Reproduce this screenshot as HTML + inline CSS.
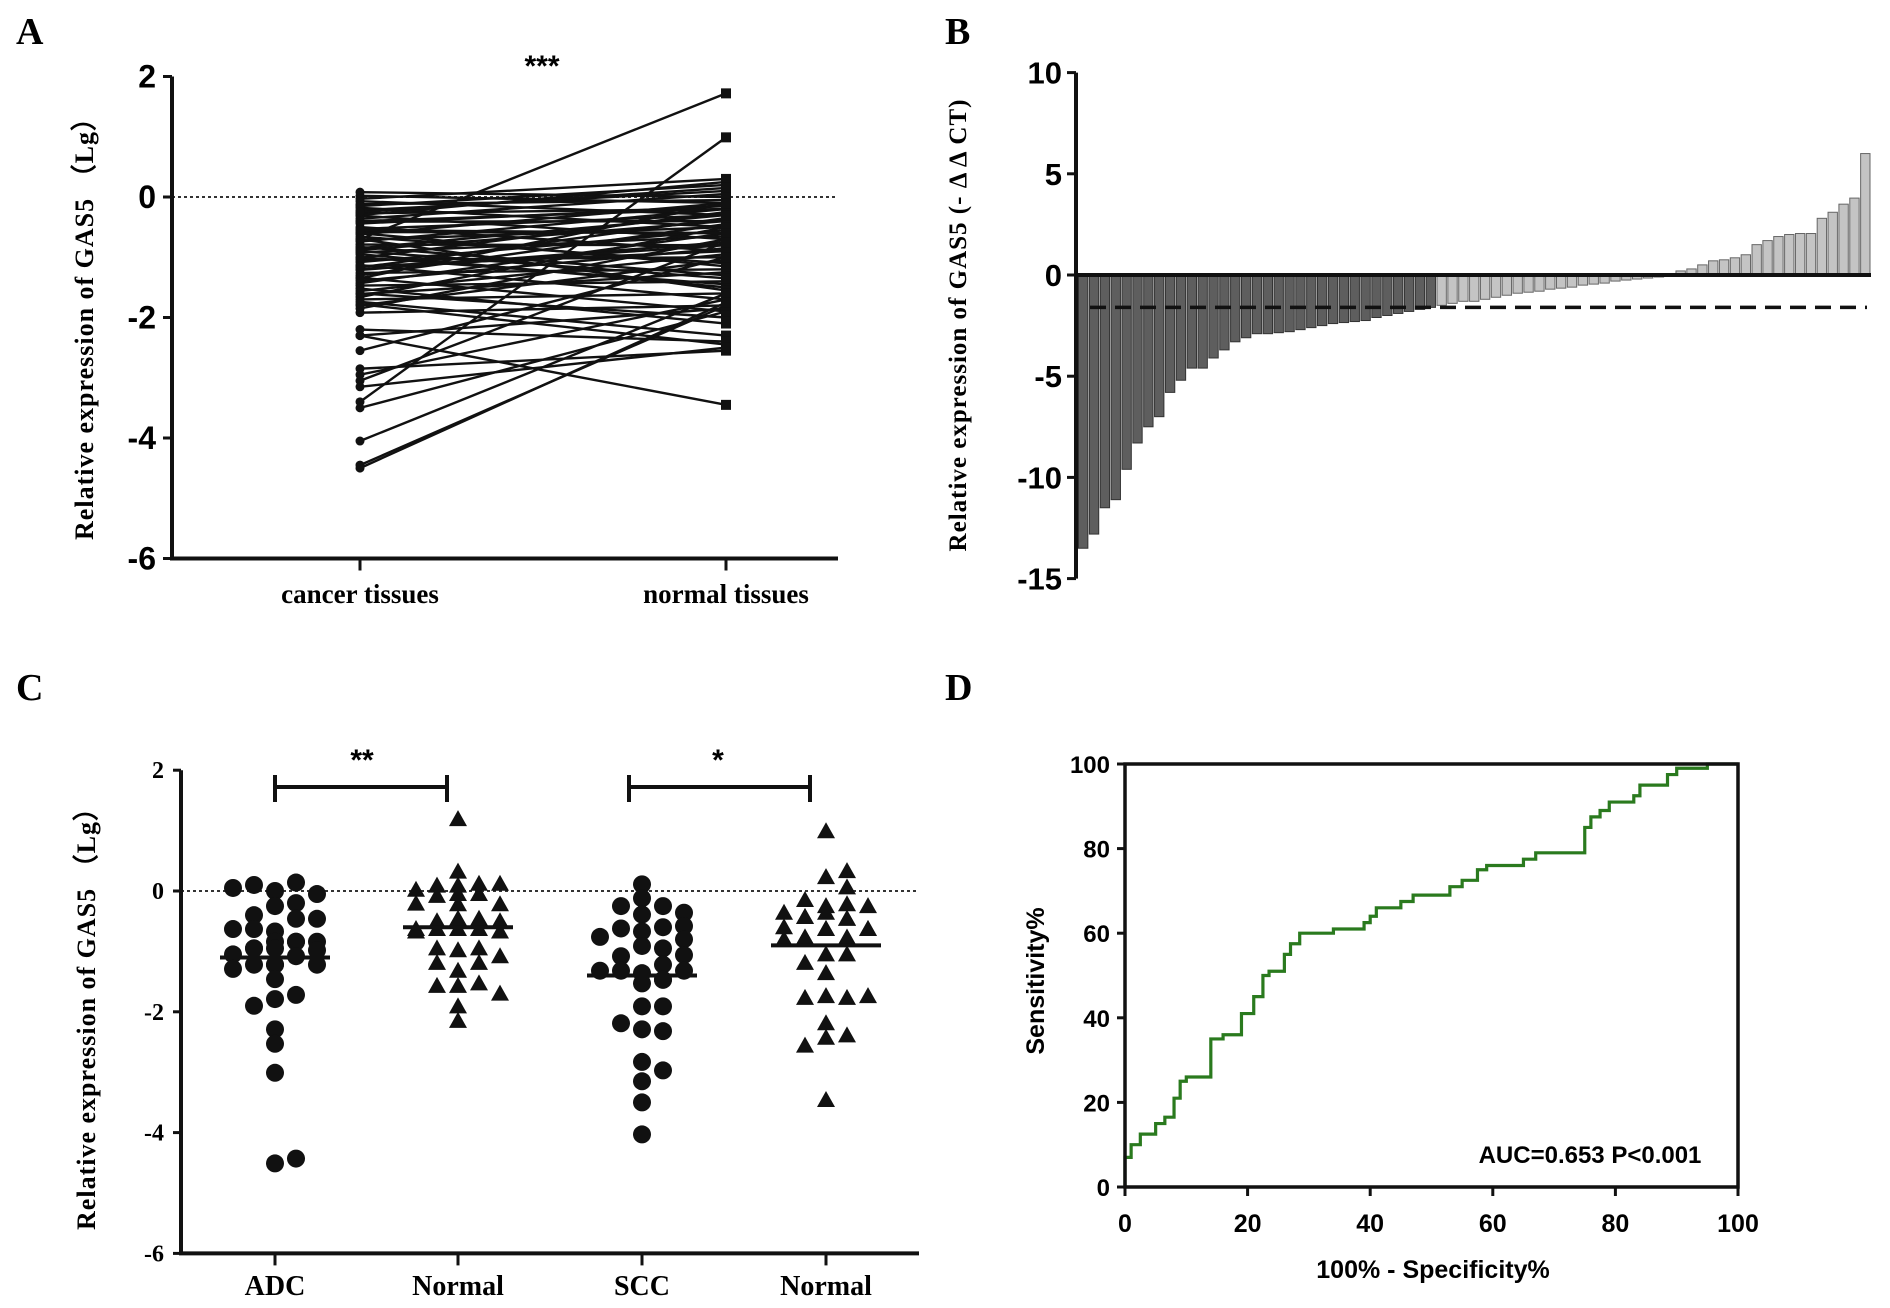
<!DOCTYPE html>
<html><head><meta charset="utf-8"><style>
html,body{margin:0;padding:0;background:#fff;}
svg{display:block;}
.ser{font-family:"Liberation Serif",serif;font-weight:bold;}
.san{font-family:"Liberation Sans",sans-serif;font-weight:bold;}
</style></head><body>
<svg id="fig" width="1890" height="1308" viewBox="0 0 1890 1308" xmlns="http://www.w3.org/2000/svg">
<g>
<text x="16" y="44" class="ser" font-size="38">A</text>
<text x="945" y="44" class="ser" font-size="38">B</text>
<text x="16" y="700" class="ser" font-size="38">C</text>
<text x="945" y="700" class="ser" font-size="38">D</text>
</g>
<g id="pa"></g>
<g id="pb"></g>
<g id="pc"></g>
<g id="pd"></g>
</svg>
<script>
// ---------- Panel A data ----------
const aCancer = [0.08,0.02,-0.03,-0.07,-0.12,-0.18,-0.22,-0.27,-0.31,-0.36,-0.41,-0.44,-0.5,-0.53,-0.58,-0.62,-0.66,-0.71,-0.74,-0.79,-0.83,-0.88,-0.92,-0.95,-1.01,-1.04,-1.08,-1.13,-1.17,-1.21,-1.26,-1.3,-1.34,-1.39,-1.43,-1.47,-1.52,-1.56,-1.61,-1.66,-1.7,-1.74,-1.8,-1.85,-1.92,-0.15,-0.4,-0.6,-0.85,-1.0,-1.2,-0.3,-0.55,-0.9,-1.15,-1.35,-1.6,-1.78,-0.7,-0.25,-2.2,-2.3,-2.3,-2.55,-2.85,-2.95,-3.05,-3.15,-3.4,-3.5,-4.05,-4.45,-4.5,-0.7];
const aNormal = [0.0,-0.1,0.3,-0.3,-0.05,-0.5,0.1,-0.2,-0.7,0.05,-0.4,-0.15,-0.9,-0.3,-0.6,-0.1,-1.1,-0.5,-0.2,-0.8,-1.3,-0.4,-0.65,-1.5,-0.25,-1.0,-0.55,-1.7,-0.35,-0.75,-1.2,-0.45,-1.9,-0.85,-0.6,-1.4,-2.1,-0.95,-1.25,-0.5,-1.6,-2.3,-1.05,-0.7,-1.8,0.2,-0.2,-1.15,-0.3,-1.45,-0.8,0.25,-0.6,-1.35,-0.9,-0.1,-2.0,-2.45,-1.55,0.15,-2.4,-3.45,-1.85,-1.0,-2.55,-1.7,-0.75,-2.5,0.99,-1.9,-1.6,-1.8,-1.75,1.72];
const aTicks = [2,0,-2,-4,-6];
const aCats = ["cancer tissues","normal tissues"];
// ---------- Panel B data ----------
const bValues = [-13.5,-12.8,-11.5,-11.1,-9.6,-8.3,-7.5,-7.0,-5.8,-5.2,-4.6,-4.6,-4.1,-3.7,-3.3,-3.1,-2.9,-2.9,-2.85,-2.8,-2.7,-2.6,-2.5,-2.4,-2.35,-2.3,-2.25,-2.1,-2.0,-1.9,-1.8,-1.7,-1.6,
 -1.5,-1.4,-1.3,-1.3,-1.2,-1.1,-1.0,-0.9,-0.85,-0.8,-0.7,-0.65,-0.6,-0.5,-0.45,-0.4,-0.3,-0.25,-0.2,-0.15,-0.1,-0.05,0.2,0.3,0.5,0.7,0.75,0.85,1.0,1.5,1.7,1.9,2.0,2.05,2.05,2.8,3.1,3.5,3.8,6.0];
const bCutoff = -1.6;
const bTicks = [10,5,0,-5,-10,-15];
// ---------- Panel C data ----------
const cCats = ["ADC","Normal","SCC","Normal"];
const cADC = [0,0.14,0.1,-0.05,0.05,-0.2,-0.25,-0.46,-0.4,-0.46,-0.67,-0.63,-0.63,-0.84,-0.84,-0.84,-0.84,-0.95,-1.05,-0.95,-0.95,-1.08,-0.98,-1.22,-1.22,-1.22,-1.22,-1.29,-1.46,-1.79,-1.72,-1.9,-2.29,-2.53,-3.01,-4.51,-4.43];
const cNormal1 = [1.19,0.32,0.12,0.09,0.09,0.12,0.02,-0.05,-0.05,-0.08,-0.22,-0.21,-0.22,-0.46,-0.46,-0.5,-0.5,-0.63,-0.63,-0.63,-0.63,-0.67,-0.67,-0.98,-0.95,-0.95,-1.08,-1.19,-1.19,-1.32,-1.53,-1.57,-1.57,-1.7,-1.91,-2.15];
const cSCC = [0.11,-0.12,-0.25,-0.25,-0.39,-0.36,-0.6,-0.67,-0.62,-0.58,-0.8,-0.76,-0.91,-0.95,-1.08,-1.06,-1.36,-1.22,-1.32,-1.32,-1.32,-1.47,-1.53,-1.47,-1.91,-1.91,-2.29,-2.32,-2.19,-2.83,-2.97,-3.15,-3.5,-4.03];
const cNormal2 = [0.99,0.23,0.33,0.06,-0.25,-0.22,-0.15,-0.25,-0.36,-0.36,-0.46,-0.43,-0.43,-0.46,-0.63,-0.63,-0.6,-0.63,-0.63,-0.8,-0.77,-0.77,-0.77,-0.8,-1.05,-1.05,-1.19,-1.36,-1.74,-1.77,-1.77,-1.74,-2.19,-2.43,-2.39,-2.56,-3.46];
const cMeans = [-1.1,-0.6,-1.4,-0.9];
const cTicks = [2,0,-2,-4,-6];
// ---------- Panel D data ----------
const dFpr = [0,1,2.5,5,6.5,8,9,10,14,16,19,21,22.5,23.5,26,27,28.5,34,39,40,41,45,47,53,55,57.5,59,65,67,75,76,77.5,79,83,84,88.5,90,95,100];
const dTpr = [7,10,12.5,15,16.5,21,25,26,35,36,41,45,50,51,55,57.5,60,61,62.5,64,66,67.5,69,71,72.5,75,76,77.5,79,85,87.5,89,91,92.5,95,97.5,99,100,100];
const dTicks = [0,20,40,60,80,100];

const NS="http://www.w3.org/2000/svg";
function mk(parent,tag,attrs,txt){const e=document.createElementNS(NS,tag);for(const k in attrs)e.setAttribute(k,attrs[k]);if(txt!==undefined)e.textContent=txt;parent.appendChild(e);return e;}

// ===== Panel A =====
(function(){
 const g=document.getElementById('pa');
 const y=v=>197-v*60.25, xL=172, xR=838, xc=[360,726];
 let e=mk(g,'line',{x1:xL,y1:y(0),x2:xR,y2:y(0),stroke:'#333','stroke-width':2,'stroke-dasharray':'3,3'});
 
 
 for(let i=0;i<aCancer.length;i++){
  e=mk(g,'line',{x1:xc[0],y1:y(aCancer[i]),x2:xc[1],y2:y(aNormal[i]),stroke:'#111','stroke-width':2.4});
  
  
  e=mk(g,'circle',{cx:xc[0],cy:y(aCancer[i]),r:4.5,fill:'#111'});
  
  
  e=mk(g,'rect',{x:xc[1]-5,y:y(aNormal[i])-5,width:10,height:10,fill:'#111'});
  
  
 }
 e=mk(g,'path',{d:`M${xL},${y(2)} V${y(-6)} H${xR}`,stroke:'#111','stroke-width':4,fill:'none'});
 
 
 aTicks.forEach(t=>{
  e=mk(g,'line',{x1:xL-9,y1:y(t),x2:xL,y2:y(t),stroke:'#111','stroke-width':3});
  
  
  e=mk(g,'text',{x:xL-16,y:y(t)+11,'text-anchor':'end','font-size':32,class:'san'},String(t));
  
  
 });
 aCats.forEach((c,i)=>{
  e=mk(g,'line',{x1:xc[i],y1:y(-6),x2:xc[i],y2:y(-6)+12,stroke:'#111','stroke-width':3});
  
  
  e=mk(g,'text',{x:xc[i],y:603,'text-anchor':'middle','font-size':27,class:'ser'},c);
  
  
 });
 e=mk(g,'text',{x:542,y:76,'text-anchor':'middle','font-size':30,class:'san'},'***');
 
 
 e=mk(g,'text',{x:0,y:0,transform:'translate(93,322) rotate(-90)','text-anchor':'middle','font-size':26,class:'ser','letter-spacing':'1'},'Relative expression of GAS5 （Lg）');
 
 
})();

// ===== Panel B =====
(function(){
 const g=document.getElementById('pb');
 const y=v=>275-v*20.24, xL=1076, xR=1871;
 const n=bValues.length, bw=(xR-xL-2)/n;
 let e;
 bValues.forEach((v,i)=>{
  const x=xL+2+i*bw, y0=y(0), y1=y(v);
  e=mk(g,'rect',{x:x+0.5,y:Math.min(y0,y1),width:bw-1.5,height:Math.abs(y1-y0),fill:(v<=bCutoff?'#5e5e5e':'#c4c4c4'),stroke:(v<=bCutoff?'#333':'#666'),'stroke-width':1});
  
  
 });
 e=mk(g,'line',{x1:1090,y1:y(bCutoff),x2:1867,y2:y(bCutoff),stroke:'#111','stroke-width':3.5,'stroke-dasharray':'16,9'});
 
 
 e=mk(g,'line',{x1:xL,y1:y(0),x2:xR,y2:y(0),stroke:'#111','stroke-width':4});
 
 
 e=mk(g,'line',{x1:xL,y1:y(10),x2:xL,y2:y(-15),stroke:'#111','stroke-width':4});
 
 
 bTicks.forEach(t=>{
  e=mk(g,'line',{x1:xL-9,y1:y(t),x2:xL,y2:y(t),stroke:'#111','stroke-width':3});
  
  
  e=mk(g,'text',{x:1062,y:y(t)+11,'text-anchor':'end','font-size':31,class:'san'},String(t));
  
  
 });
 e=mk(g,'text',{x:0,y:0,transform:'translate(966,325) rotate(-90)','text-anchor':'middle','font-size':25,class:'ser','letter-spacing':'1'},'Relative expression of GAS5 (- Δ Δ CT)');
 
 
})();

// ===== Panel C =====
(function(){
 const g=document.getElementById('pc');
 const y=v=>891-v*60.4, xL=181, xR=919, xc=[275,458,642,826];
 const groups=[cADC,cNormal1,cSCC,cNormal2];
 let e;
 e=mk(g,'line',{x1:xL,y1:y(0),x2:xR,y2:y(0),stroke:'#333','stroke-width':2,'stroke-dasharray':'3,3'});
 
 
 const cands=[0,1,-1,2,-2];
 groups.forEach((vals,gi)=>{
  const placed=[];
  vals.forEach(v=>{
   const py=y(v);
   let best=0,bestCount=1e9;
   for(const c of cands){
    const px=xc[gi]+c*21;
    const cnt=placed.filter(p=>Math.abs(p[0]-px)<18&&Math.abs(p[1]-py)<13).length;
    if(cnt<bestCount){bestCount=cnt;best=c;}
    if(cnt===0)break;
   }
   const px=xc[gi]+best*21; placed.push([px,py]);
   if(gi%2===0){
    e=mk(g,'circle',{cx:px,cy:py,r:9,fill:'#111'});
    
    
   } else {
    e=mk(g,'path',{d:`M${px},${py-9} L${px+9},${py+7} L${px-9},${py+7} Z`,fill:'#111'});
    
    
   }
  });
  e=mk(g,'line',{x1:xc[gi]-55,y1:y(cMeans[gi]),x2:xc[gi]+55,y2:y(cMeans[gi]),stroke:'#111','stroke-width':4});
  
  
 });
 e=mk(g,'path',{d:`M${xL},${y(2)} V${y(-6)} H${xR}`,stroke:'#111','stroke-width':4,fill:'none'});
 
 
 cTicks.forEach(t=>{
  e=mk(g,'line',{x1:xL-8,y1:y(t),x2:xL,y2:y(t),stroke:'#111','stroke-width':3});
  
  
  e=mk(g,'text',{x:164,y:y(t)+8,'text-anchor':'end','font-size':24,class:'ser'},String(t));
  
  
 });
 cCats.forEach((c,i)=>{
  e=mk(g,'line',{x1:xc[i],y1:y(-6),x2:xc[i],y2:y(-6)+12,stroke:'#111','stroke-width':3});
  
  
  e=mk(g,'text',{x:xc[i],y:1295,'text-anchor':'middle','font-size':28,class:'ser'},c);
  
  
 });
 [[275,447,362,'**'],[629,810,718,'*']].forEach(b=>{
  e=mk(g,'path',{d:`M${b[0]},775 V802 M${b[0]},787 H${b[1]} M${b[1]},775 V802`,stroke:'#111','stroke-width':4,fill:'none'});
  
  
  e=mk(g,'text',{x:b[2],y:770,'text-anchor':'middle','font-size':30,class:'san'},b[3]);
  
  
 });
 e=mk(g,'text',{x:0,y:0,transform:'translate(95,1012) rotate(-90)','text-anchor':'middle','font-size':26,class:'ser','letter-spacing':'1'},'Relative expression of GAS5 （Lg）');
 
 
})();

// ===== Panel D =====
(function(){
 const g=document.getElementById('pd');
 const x=v=>1125+v*6.13, y=v=>1187-v*4.23;
 let e;
 let d=`M${x(0)},${y(0)}`, prev=0;
 dFpr.forEach((f,i)=>{d+=` L${x(f)},${y(prev)} L${x(f)},${y(dTpr[i])}`;prev=dTpr[i];});
 e=mk(g,'path',{d:d,stroke:'#2a7a1e','stroke-width':3.2,fill:'none'});
 
 
 e=mk(g,'rect',{x:x(0),y:y(100),width:x(100)-x(0),height:y(0)-y(100),stroke:'#111','stroke-width':3.5,fill:'none'});
 
 
 dTicks.forEach(t=>{
  e=mk(g,'line',{x1:x(t),y1:y(0),x2:x(t),y2:y(0)+9,stroke:'#111','stroke-width':3});
  
  
  e=mk(g,'text',{x:x(t),y:1232,'text-anchor':'middle','font-size':25,class:'san'},String(t));
  
  
  e=mk(g,'line',{x1:x(0)-8,y1:y(t),x2:x(0),y2:y(t),stroke:'#111','stroke-width':3});
  
  
  e=mk(g,'text',{x:1110,y:y(t)+9,'text-anchor':'end','font-size':24,class:'san'},String(t));
  
  
 });
 e=mk(g,'text',{x:1433,y:1278,'text-anchor':'middle','font-size':25,class:'san'},'100%  - Specificity%');
 
 
 e=mk(g,'text',{x:0,y:0,transform:'translate(1044,981) rotate(-90)','text-anchor':'middle','font-size':25,class:'san'},'Sensitivity%');
 
 
 e=mk(g,'text',{x:1590,y:1163,'text-anchor':'middle','font-size':24,class:'san'},'AUC=0.653 P<0.001');
 
 
})();
</script>
</body></html>
